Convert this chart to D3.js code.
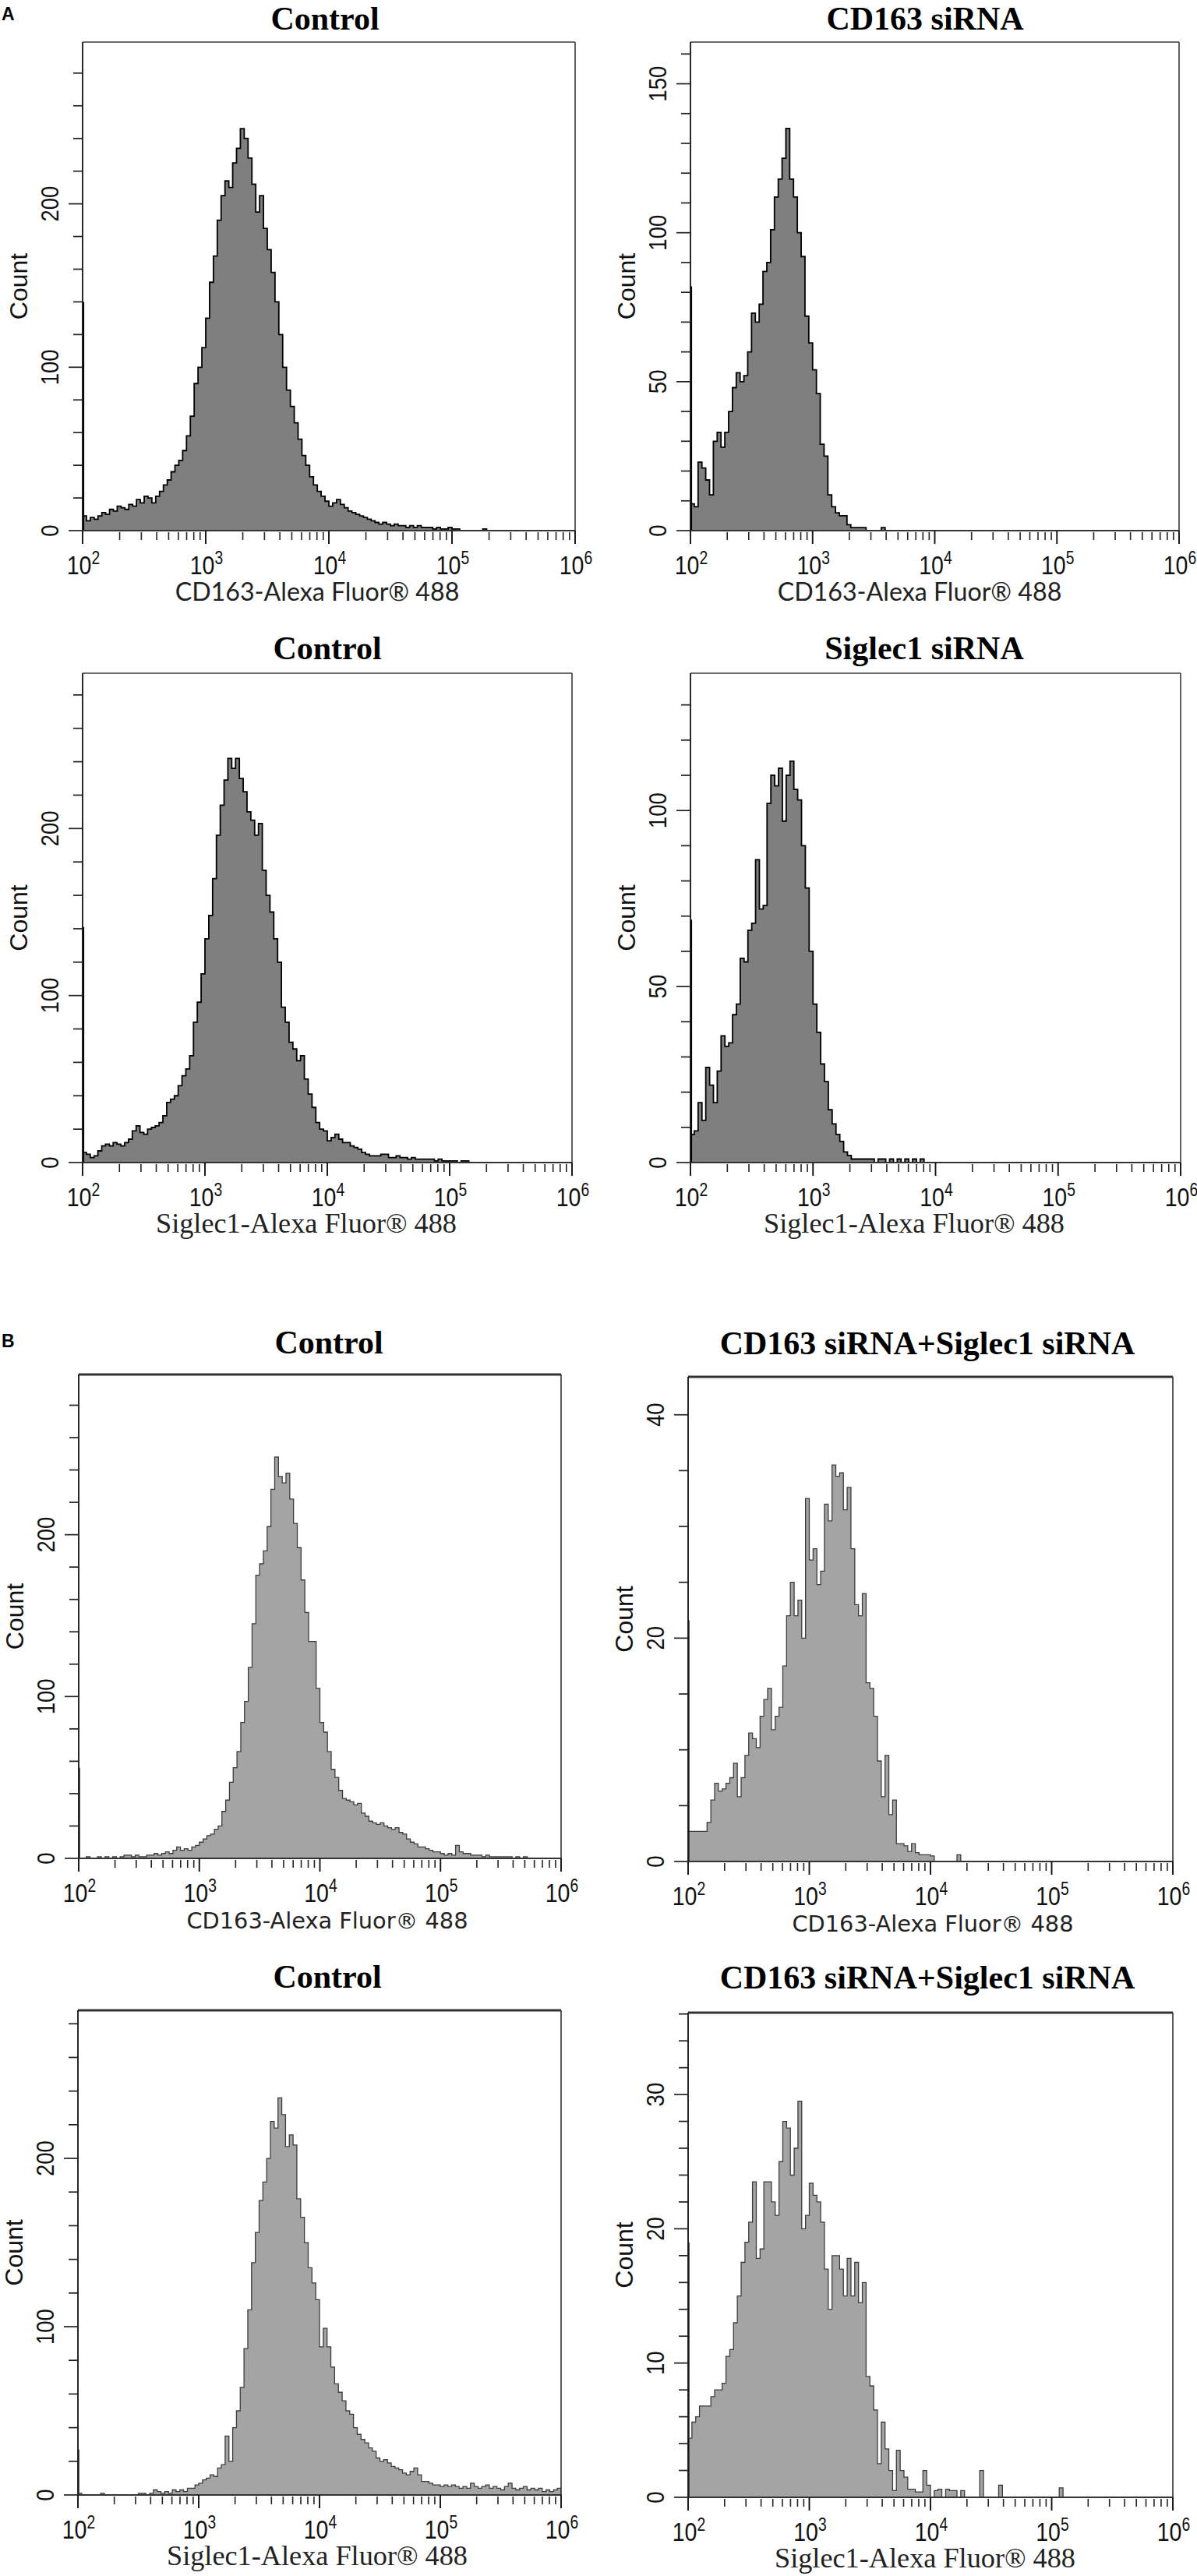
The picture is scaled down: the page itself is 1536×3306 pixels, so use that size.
<!DOCTYPE html>
<html><head><meta charset="utf-8">
<script src="https://cdn.jsdelivr.net/npm/d3@7"></script>
<style>body{margin:0;background:#fff}svg{display:block}</style>
</head><body>
<svg id="c" width="1536" height="3306"></svg>
<script>
// ---------------- DATA ----------------
const sectionLabels = ["A", "B"];
const panelTitles = ["Control", "CD163 siRNA", "Control", "Siglec1 siRNA",
  "Control", "CD163 siRNA+Siglec1 siRNA", "Control", "CD163 siRNA+Siglec1 siRNA"];
const xAxisLabels = ["CD163-Alexa Fluor® 488", "CD163-Alexa Fluor® 488",
  "Siglec1-Alexa Fluor® 488", "Siglec1-Alexa Fluor® 488",
  "CD163-Alexa Fluor® 488", "CD163-Alexa Fluor® 488",
  "Siglec1-Alexa Fluor® 488", "Siglec1-Alexa Fluor® 488"];
const yAxisLabel = "Count";
const xTickExponents = [2, 3, 4, 5, 6];
const startExponent = 2;
const binsPerDecade = 32;
const yMaxValues = [299, 164, 293, 139, 299, 43.4, 288, 36.1];
const yMinorStep = [20, 10, 20, 10, 20, 5, 20, 2];
const yLabelStep = [100, 50, 100, 50, 100, 20, 100, 10];
const edgeSpikes = [140, 82, 141, 69, 56, 21.6, 27, 19];

const countsA1 = [9,6,8,7,9,11,10,13,12,15,14,13,16,15,19,17,21,20,17,21,24,28,31,36,40,43,49,58,70,90,100,112,130,152,168,190,205,214,210,225,234,246,240,228,212,195,205,185,172,158,140,120,100,86,76,66,56,46,40,33,28,24,21,18,15,17,19,16,14,12,11,10,9,8,7,6,5,4,5,4,3,4,3,3,2,3,2,3,2,2,2,1,2,1,1,2,1,1,0,0,0,0,0,0,1];
const countsA2 = [9,8,23,21,17,12,30,33,28,33,40,48,53,50,52,60,73,70,76,87,90,101,112,118,125,135,118,112,100,92,72,63,54,46,29,25,12,8,6,5,5,2,1,1,1,1,0,0,0,0,1];
const countsA3 = [6,5,3,4,7,10,11,10,12,11,10,12,14,19,22,18,17,20,21,22,24,28,36,38,40,46,52,56,64,84,96,113,134,148,170,196,214,229,242,236,242,230,222,210,205,196,203,175,160,150,134,120,93,84,72,68,61,64,50,41,33,24,20,19,13,15,17,14,12,12,10,9,8,6,5,4,4,4,5,5,3,3,4,3,3,2,3,2,2,2,2,2,1,2,1,1,1,1,0,1,1];
const countsA4 = [8,9,17,12,27,22,17,26,36,33,34,42,45,58,57,66,68,86,72,73,102,110,107,112,97,110,114,106,103,90,78,60,45,37,28,23,15,11,8,6,3,2,1,1,1,1,1,1,0,1,1,0,1,0,1,0,1,0,1,0,1];
const countsB1 = [0,0,1,0,0,1,0,1,0,1,0,1,2,2,1,2,1,1,2,2,3,2,3,4,3,5,7,5,6,5,7,8,10,12,14,15,18,20,29,36,47,56,66,84,97,118,145,175,182,190,205,228,248,236,232,238,222,207,192,172,152,134,134,105,84,78,66,55,50,42,37,36,35,33,34,28,26,23,22,21,22,20,19,18,19,16,15,12,10,9,7,7,6,5,4,4,3,2,3,2,8,4,3,3,2,2,2,1,2,1,1,1,1,1,1,0,1,0,1];
const countsB2 = [2.7,2.7,2.7,2.7,2.7,3.5,5.5,7,6.3,6.5,7,7.5,8.8,5.8,7.5,9.5,11.5,11,10.2,13,14.5,15.5,11.8,13,13.8,17.5,22,25,22,23.4,20,32.5,27,28,24.8,26,32,30.5,35.5,34.5,34.8,31.5,33.5,28,23,22,24,16,15.5,13,9,5.8,9.5,4.2,5.5,1.6,1.6,1.4,0.9,1.6,0.8,0.6,0.6,0.6,0.5,0,0,0,0,0,0,0.6];
const countsB3 = [1,0,0,0,0,0,1,0,0,0,0,0,0,0,0,0,1,1,0,1,3,2,1,2,1,3,2,3,2,4,4,6,7,9,10,12,11,16,18,35,20,40,50,64,87,110,138,156,175,186,200,222,218,236,226,207,214,208,176,165,150,135,126,116,88,99,88,76,66,61,56,50,48,40,36,33,31,28,26,22,20,21,19,17,16,15,13,12,14,16,12,8,8,7,6,6,5,6,5,6,5,4,5,4,7,5,4,5,6,4,5,4,3,5,7,4,3,4,5,3,4,3,4,2,3,2,3,4];
const countsB4 = [4.4,5.6,6,6.8,6.8,6.8,7.5,8,8,8.5,10.5,11,13,15,17.5,19,20.5,23.5,17.8,18.5,23.5,23.5,22,21,25,28,27.5,24,26,29.5,20,21,23.4,22.5,22,20.5,17,14,18,18,17,15,17.8,15,17.5,14.5,16,9,8.3,6.5,2.5,5.6,3.6,2,0.5,3.5,2,1.5,0.6,0.6,0.4,0.4,2,0.9,0,0.5,0.6,0,0.6,0.5,0.5,0,0.5,0,0,0,0,2,0,0,0,0,0.9,0,0,0,0,0,0,0,0,0,0,0,0,0,0,0,0.7];
const allCounts = [countsA1, countsA2, countsA3, countsA4, countsB1, countsB2, countsB3, countsB4];

// ---------------- LAYOUT / STYLE ----------------
const layout = [
  {x0:106, x1:738,  top:54,   zero:681,  tCx:417,  tY:38,   labCx:407,  labW:365, labFont:"Lato, 'Open Sans', sans-serif", sec:"A"},
  {x0:886, x1:1513, top:54,   zero:681,  tCx:1187, tY:38,   labCx:1180, labW:365, labFont:"Lato, 'Open Sans', sans-serif", sec:"A"},
  {x0:106, x1:734,  top:864,  zero:1492, tCx:420,  tY:846,  labCx:393,  labW:386, labFont:"'Liberation Serif', serif", sec:"A"},
  {x0:886, x1:1515, top:864,  zero:1492, tCx:1186, tY:846,  labCx:1173, labW:386, labFont:"'Liberation Serif', serif", sec:"A"},
  {x0:101, x1:720,  top:1764, zero:2385, tCx:422,  tY:1737, labCx:420,  labW:361, labFont:"'DejaVu Sans', sans-serif", sec:"B"},
  {x0:883, x1:1505, top:1767, zero:2389, tCx:1190, tY:1738, labCx:1197, labW:361, labFont:"'DejaVu Sans', sans-serif", sec:"B"},
  {x0:100, x1:720,  top:2580, zero:3202, tCx:420,  tY:2551, labCx:407,  labW:386, labFont:"'Liberation Serif', serif", sec:"B"},
  {x0:883, x1:1505, top:2583, zero:3205, tCx:1190, tY:2552, labCx:1187, labW:386, labFont:"'Liberation Serif', serif", sec:"B"}
];
const tickLabelOffset = 56, axisLabelOffset = 90;
const styles = {
  A: {fill:"#7f7f7f", stroke:"#000", sw:1.8, frame:"#3a3a3a", topW:1.5},
  B: {fill:"#a4a4a4", stroke:"#3c3c3c", sw:1.3, frame:"#333", topW:3}
};
const tickFont = "'Liberation Sans', Arial, sans-serif";

const svg = d3.select("#c");
svg.append("rect").attr("width",1536).attr("height",3306).attr("fill","#fff");

svg.append("text").attr("x",2).attr("y",26).text(sectionLabels[0])
  .attr("font-family",tickFont).attr("font-weight","bold").attr("font-size",23);
svg.append("text").attr("x",2).attr("y",1729).text(sectionLabels[1])
  .attr("font-family",tickFont).attr("font-weight","bold").attr("font-size",23);

function fitWidth(sel, target) {
  const w = sel.node().getComputedTextLength();
  const fs = parseFloat(sel.attr("font-size"));
  if (w > 0) sel.attr("font-size", fs * target / w);
}

allCounts.forEach((counts, p) => {
  const L = layout[p], S = styles[L.sec];
  const g = svg.append("g");
  const x = d3.scaleLog().domain([Math.pow(10, xTickExponents[0]), Math.pow(10, xTickExponents[xTickExponents.length-1])]).range([L.x0, L.x1]);
  const y = d3.scaleLinear().domain([0, yMaxValues[p]]).range([L.zero, L.top]);

  const cid = "clip" + p;
  svg.append("clipPath").attr("id", cid).append("rect")
    .attr("x", L.x0).attr("y", L.top).attr("width", L.x1 - L.x0).attr("height", L.zero - L.top);

  const pts = counts.map((c, i) => ({v: Math.pow(10, startExponent + i / binsPerDecade), c}));
  pts.push({v: Math.pow(10, startExponent + counts.length / binsPerDecade), c: 0});

  const area = d3.area().curve(d3.curveStepAfter)
    .x(d => x(d.v)).y0(y(0)).y1(d => y(d.c));
  const line = d3.line().curve(d3.curveStepAfter)
    .x(d => x(d.v)).y(d => y(d.c));

  const hg = g.append("g").attr("clip-path", `url(#${cid})`);
  hg.append("path").datum(pts).attr("d", area).attr("fill", S.fill);
  hg.append("path").datum(pts).attr("d", line).attr("fill", "none")
    .attr("stroke", S.stroke).attr("stroke-width", S.sw).attr("stroke-linejoin", "miter");
  hg.append("line").attr("x1", x(Math.pow(10, startExponent)) + 1).attr("x2", x(Math.pow(10, startExponent)) + 1)
    .attr("y1", y(0)).attr("y2", y(edgeSpikes[p]))
    .attr("stroke", S.stroke).attr("stroke-width", S.sw + 0.4);

  // frame
  g.append("line").attr("x1", L.x0).attr("x2", L.x1).attr("y1", L.top).attr("y2", L.top)
    .attr("stroke", S.frame).attr("stroke-width", S.topW);
  g.append("line").attr("x1", L.x1).attr("x2", L.x1).attr("y1", L.top).attr("y2", L.zero)
    .attr("stroke", S.frame).attr("stroke-width", 1.6);
  g.append("line").attr("x1", L.x0).attr("x2", L.x0).attr("y1", L.top).attr("y2", L.zero)
    .attr("stroke", "#111").attr("stroke-width", 1.8);
  g.append("line").attr("x1", L.x0).attr("x2", L.x1).attr("y1", L.zero).attr("y2", L.zero)
    .attr("stroke", "#333").attr("stroke-width", 1.8);

  // x ticks
  xTickExponents.slice(0, -1).forEach(e => {
    for (let k = 2; k <= 9; k++) {
      const xv = x(k * Math.pow(10, e));
      g.append("line").attr("x1", xv).attr("x2", xv).attr("y1", L.zero + 2).attr("y2", L.zero + 12)
        .attr("stroke", "#222").attr("stroke-width", 1.6);
    }
  });
  const tickY = L.zero + tickLabelOffset;
  xTickExponents.forEach(e => {
    const xv = x(Math.pow(10, e));
    g.append("line").attr("x1", xv).attr("x2", xv).attr("y1", L.zero).attr("y2", L.zero + 17)
      .attr("stroke", "#111").attr("stroke-width", 1.9);
    const t = g.append("text").attr("transform", `translate(${xv + 1},${tickY}) scale(0.84,1)`)
      .attr("text-anchor", "middle").attr("font-family", tickFont).attr("font-size", 34).attr("fill", "#111");
    t.append("tspan").text("10");
    t.append("tspan").text(String(e)).attr("font-size", 23).attr("dy", -13);
  });

  // y ticks
  const yt = d3.range(0, yMaxValues[p] + 1e-9, yMinorStep[p]);
  yt.forEach(v => {
    const yy = y(v);
    const major = Math.abs(v / yLabelStep[p] - Math.round(v / yLabelStep[p])) < 1e-9;
    g.append("line").attr("x1", L.x0 - (major ? 18 : 12)).attr("x2", L.x0).attr("y1", yy).attr("y2", yy)
      .attr("stroke", "#222").attr("stroke-width", 1.7);
    if (major) {
      g.append("text").attr("transform", `translate(${L.x0 - 31},${yy}) rotate(-90) scale(0.86,1)`)
        .attr("text-anchor", "middle").attr("font-family", tickFont)
        .attr("font-size", 32).attr("fill", "#111").text(String(v));
    }
  });

  g.append("text").attr("transform", `translate(${L.x0 - 71},${(L.top + L.zero) / 2}) rotate(-90)`)
    .attr("text-anchor", "middle").attr("font-family", tickFont)
    .attr("font-size", 32).attr("fill", "#111").text(yAxisLabel);

  g.append("text").attr("x", L.tCx).attr("y", L.tY).attr("text-anchor", "middle")
    .attr("font-family", "'Liberation Serif', 'Times New Roman', serif").attr("font-weight", "bold")
    .attr("font-size", 42).attr("fill", "#000").text(panelTitles[p]);

  const xl = g.append("text").attr("x", L.labCx).attr("y", L.zero + axisLabelOffset).attr("text-anchor", "middle")
    .attr("font-family", L.labFont).attr("font-size", 30).attr("fill", "#222").text(xAxisLabels[p]);
  fitWidth(xl, L.labW);
});
</script>
</body></html>
